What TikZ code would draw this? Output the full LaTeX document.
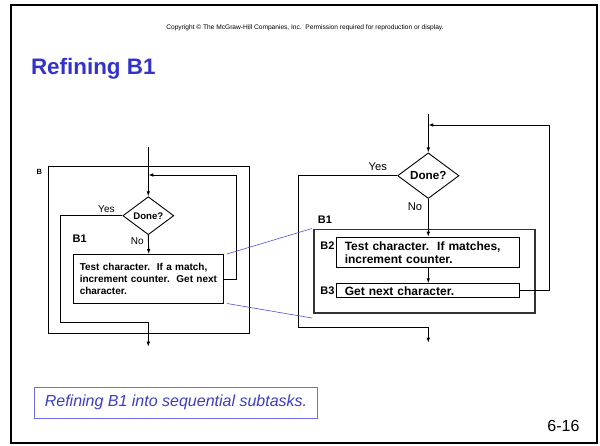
\documentclass[tikz,border=0pt]{standalone}
\usepackage{fontspec}
\setmainfont{Liberation Sans}
\usetikzlibrary{shapes.geometric,arrows.meta}
\definecolor{titleblue}{RGB}{51,51,204}
\definecolor{capblue}{RGB}{60,60,200}
\definecolor{boxblue}{RGB}{110,110,230}
\definecolor{linkblue}{RGB}{80,80,220}
\begin{document}
\begin{tikzpicture}[x=1pt,y=-1pt,
  line width=0.9pt,
  arr/.style={-{Latex[length=5pt,width=3.6pt]}},
  dec/.style={draw, diamond, inner sep=0pt},
  lbl/.style={font=\bfseries\fontsize{11}{13}\selectfont},
  plain/.style={font=\fontsize{10}{12}\selectfont},
  tboxl/.style={draw, anchor=north west, align=left, inner ysep=0pt, inner xsep=6pt,
    text width=138pt, minimum height=49.3pt, font=\bfseries\fontsize{10}{12}\selectfont},
  tboxr/.style={draw, anchor=north west, align=left, inner ysep=0pt, inner xsep=8.3pt,
    text width=166.7pt, font=\bfseries\fontsize{12}{13.3}\selectfont},
  link/.style={draw=linkblue, line width=0.6pt}
]
\useasboundingbox (0,0) rectangle (600,445);

% frame and slide texts
\draw[line width=2pt] (11,5) rectangle (597,443);
\node[font=\fontsize{6.6}{7.5}\selectfont] (copy) at (305,27.5)
  {Copyright © The McGraw-Hill Companies, Inc.\ \ Permission required for reproduction or display.};
\node[anchor=base west, inner sep=0pt, text=titleblue, font=\bfseries\fontsize{22.4}{26}\selectfont] (title)
  at (30.6,74.6) {Refining B1};
\node[draw=boxblue, line width=0.6pt, anchor=north west, minimum width=282.6pt, minimum height=31pt,
  inner sep=0pt, text=capblue, font=\itshape\fontsize{16}{19}\selectfont] (cap)
  at (34.4,387) {Refining B1 into sequential subtasks.};
\node[inner sep=0pt, font=\fontsize{16}{19}\selectfont] (pg) at (563.5,426) {6-16};

% ---------------- left diagram ----------------
\coordinate (lin) at (148.3,146.7);
\node[draw, anchor=north west, minimum width=201.6pt, minimum height=167.3pt, inner sep=0pt] (lB) at (47.7,166) {};
\node[font=\bfseries\fontsize{7.5}{9}\selectfont] (lBl) at (39.3,171.7) {B};
\node[dec, minimum width=51pt, minimum height=38pt, font=\bfseries\fontsize{9.6}{11}\selectfont] (ld) at (148.3,215.7) {Done?};
\node[tboxl] (lb1) at (73.3,254) {Test character.\ \ If a match,\\increment counter.\ \ Get next\\character.};
\node[plain] (lyes) at (106.4,209) {Yes};
\node[plain] (lno) at (137.3,241) {No};
\node[lbl] (lb1l) at (79.7,238.7) {B1};
\coordinate (lout) at (148.3,346.7);
\coordinate (lloopc) at (236.7,175);
\coordinate (lyesc) at (60.7,322.3);

\draw[arr] (lin) -- (ld.north);
\draw[arr] (ld.south) -- (lb1.north);
\draw[arr] (lb1.east) -| (lloopc) -- (lloopc -| lin);
\draw[arr] (ld.west) -| (lyesc) -- (lyesc -| lout) -- (lout);

% ---------------- right diagram ----------------
\coordinate (rin) at (428.3,114);
\node[dec, minimum width=61.4pt, minimum height=45.6pt, font=\bfseries\fontsize{11.7}{13}\selectfont] (rd) at (428.3,175.7) {Done?};
\node[draw=black!80, line width=1.2pt, anchor=north west, minimum width=221pt, minimum height=83.3pt, inner sep=0pt] (rB1) at (313.3,229) {};
\node[tboxr, minimum height=30.6pt] (rb2) at (336,236.7) {Test character.\ \ If matches,\\increment counter.};
\node[tboxr, minimum height=14pt] (rb3) at (336,283.3) {Get next character.};
\node[lbl] (rb1l) at (325,220) {B1};
\node[lbl, anchor=east, inner sep=0.5pt] (rb2l) at (335.5,245.7) {B2};
\node[lbl, anchor=east, inner sep=0.5pt] (rb3l) at (335.5,290.3) {B3};
\node[font=\fontsize{11.2}{13}\selectfont] (ryes) at (377.8,167) {Yes};
\node[font=\fontsize{11.2}{13}\selectfont] (rno) at (415,206.5) {No};
\coordinate (rout) at (428.3,342.7);
\coordinate (rloopc) at (549.3,125);
\coordinate (ryesc) at (298.3,327.3);

\draw[arr] (rin) -- (rd.north);
\draw[arr] (rd.south) -- (rd.south |- rb2.north);
\draw[arr] (rb2.south -| rd) -- (rb3.north -| rd);
\draw[arr] (rb3.east) -| (rloopc) -- (rloopc -| rin);
\draw[arr] (rd.west) -| (ryesc) -- (ryesc -| rout) -- (rout);

% ---------------- blue links ----------------
\coordinate (l1a) at (227,254);
\coordinate (l1b) at (312,228.5);
\coordinate (l2a) at (227,303.5);
\coordinate (l2b) at (312,318);
\draw[link] (l1a) -- (l1b);
\draw[link] (l2a) -- (l2b);
\end{tikzpicture}
\end{document}
